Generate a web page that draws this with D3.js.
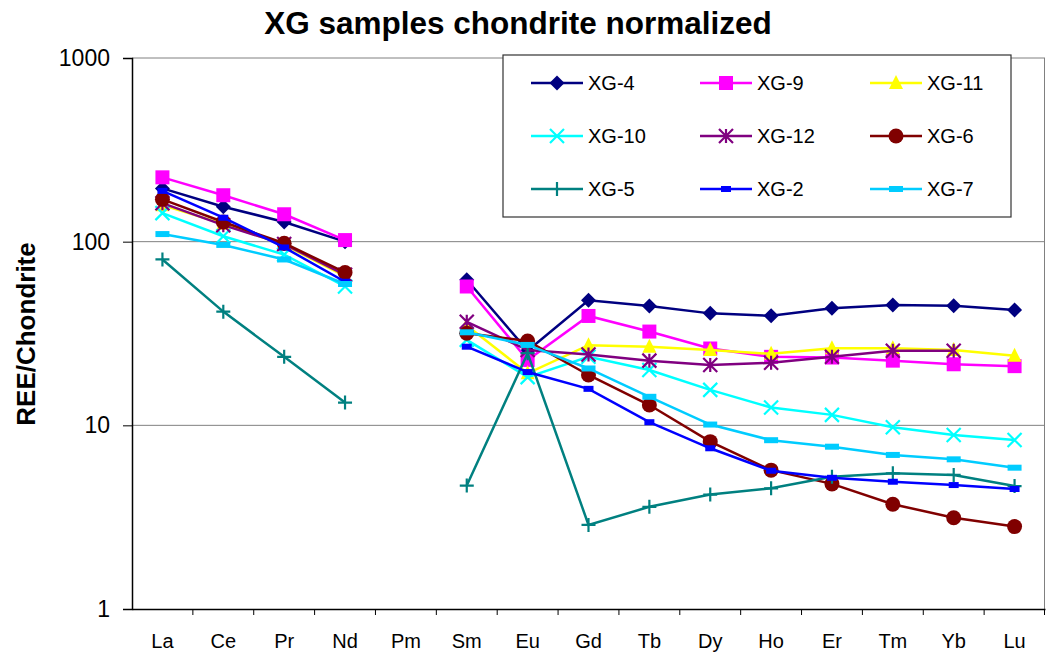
<!DOCTYPE html>
<html>
<head>
<meta charset="utf-8">
<script src="https://cdn.jsdelivr.net/npm/d3@7"></script>
<style>
  body { margin: 0; background: #fff; }
  svg { display: block; font-family: Arial, "Liberation Sans", sans-serif; }
</style>
</head>
<body>
<div id="chart"></div>
<script>
// REE elements on the x axis
const elements = ["La", "Ce", "Pr", "Nd", "Pm", "Sm", "Eu", "Gd", "Tb", "Dy", "Ho", "Er", "Tm", "Yb", "Lu"];

// chondrite normalized values (null = no value)
const xg4  = [195, 155, 128, 100, null, 62, 25.5, 48, 44.7, 40.7, 39.5, 43.4, 45.2, 44.8, 42.5];
const xg9  = [224, 179, 141, 102, null, 57, 22.7, 39.4, 32.4, 26.2, 23.6, 23.4, 22.5, 21.5, 21.0];
const xg11 = [158, 125, 96, 65, null, 35, 19.2, 27.3, 26.8, 25.7, 24.5, 26.3, 26.3, 25.7, 23.9];
const xg10 = [143, 107, 85, 57, null, 29.2, 18.3, 23.6, 20.0, 15.6, 12.5, 11.4, 9.76, 8.86, 8.32];
const xg12 = [162, 123, 97, 66, null, 36.6, 25.7, 24.3, 22.5, 21.3, 21.9, 23.6, 25.5, 25.5, null];
const xg6  = [170, 128, 98, 68, null, 31.7, 28.8, 18.8, 12.9, 8.15, 5.7, 4.8, 3.72, 3.14, 2.81];
const xg5  = [80, 41.6, 23.6, 13.3, null, 4.7, 24.7, 2.87, 3.6, 4.2, 4.54, 5.25, 5.48, 5.37, 4.67];
const xg2  = [189, 135, 93, 60.5, null, 26.8, 19.5, 15.8, 10.4, 7.5, 5.66, 5.18, 4.93, 4.73, 4.5];
const xg7  = [110, 96, 80, 58.8, null, 32.1, 27.4, 20.4, 14.3, 10.1, 8.3, 7.65, 6.9, 6.53, 5.88];

const sampleNames = ["XG-4", "XG-9", "XG-11", "XG-10", "XG-12", "XG-6", "XG-5", "XG-2", "XG-7"];
const yTicks = [1, 10, 100, 1000];

const width = 1046, height = 652;
const margin = { top: 58, right: 1, bottom: 43, left: 132 };

// series table (drawing order = legend order)
const series = [
  { name: sampleNames[0], values: xg4,  color: "#000080", marker: "diamond" },
  { name: sampleNames[1], values: xg9,  color: "#FF00FF", marker: "square" },
  { name: sampleNames[2], values: xg11, color: "#FFFF00", marker: "triangle" },
  { name: sampleNames[3], values: xg10, color: "#00FFFF", marker: "cross" },
  { name: sampleNames[4], values: xg12, color: "#800080", marker: "star" },
  { name: sampleNames[5], values: xg6,  color: "#800000", marker: "circle" },
  { name: sampleNames[6], values: xg5,  color: "#008080", marker: "plus" },
  { name: sampleNames[7], values: xg2,  color: "#0000FF", marker: "smallbar" },
  { name: sampleNames[8], values: xg7,  color: "#00CCFF", marker: "bar" }
];

const svg = d3.select("#chart").append("svg")
  .attr("width", width)
  .attr("height", height);

const x = d3.scaleBand()
  .domain(elements)
  .range([margin.left, width - margin.right]);

const y = d3.scaleLog()
  .domain([1, 1000])
  .range([height - margin.bottom, margin.top]);

// gridlines + frame
svg.append("g")
  .selectAll("line")
  .data(yTicks.slice(1))
  .enter()
  .append("line")
  .attr("x1", margin.left)
  .attr("x2", width - margin.right)
  .attr("y1", d => y(d))
  .attr("y2", d => y(d))
  .attr("stroke", "#808080")
  .attr("stroke-width", 1);

svg.append("line")
  .attr("x1", width - margin.right - 0.5)
  .attr("x2", width - margin.right - 0.5)
  .attr("y1", y(1000))
  .attr("y2", y(1))
  .attr("stroke", "#808080");

// y axis
const yAxis = svg.append("g")
  .attr("transform", `translate(${margin.left},0)`)
  .call(d3.axisLeft(y).tickValues(yTicks).tickFormat(d3.format("d")).tickSize(9).tickPadding(13));
yAxis.attr("font-family", "Arial, 'Liberation Sans', sans-serif").attr("font-size", 23);
yAxis.selectAll("text").attr("fill", "#000");
yAxis.select(".domain").attr("stroke", "#000").attr("stroke-width", 1.5);
yAxis.selectAll(".tick line").attr("stroke", "#000");

// x axis: labels at band centres, ticks at band edges
const xAxis = svg.append("g")
  .attr("transform", `translate(0,${y(1)})`)
  .call(d3.axisBottom(x).tickSize(0).tickPadding(25));
xAxis.attr("font-family", "Arial, 'Liberation Sans', sans-serif").attr("font-size", 20);
xAxis.selectAll("text").attr("fill", "#000");
xAxis.select(".domain").attr("stroke", "#000").attr("stroke-width", 1.5);

xAxis.selectAll(".edge")
  .data(elements.slice(1).concat(["end"]))
  .enter()
  .append("line")
  .attr("class", "edge")
  .attr("x1", d => d === "end" ? x.range()[1] - 0.5 : x(d))
  .attr("x2", d => d === "end" ? x.range()[1] - 0.5 : x(d))
  .attr("y1", 0)
  .attr("y2", 6)
  .attr("stroke", "#000");

// marker shapes
function markerPath(type) {
  const r = 7;
  switch (type) {
    case "diamond": return `M0,${-r - 0.5}L${r + 0.5},0L0,${r + 0.5}L${-r - 0.5},0Z`;
    case "square": return `M${-r},${-r}H${r}V${r}H${-r}Z`;
    case "triangle": return `M0,${-r - 1}L${r},${r - 1}L${-r},${r - 1}Z`;
    case "cross": return `M${-r},${-r}L${r},${r}M${-r},${r}L${r},${-r}`;
    case "star": return `M${-r},${-r}L${r},${r}M${-r},${r}L${r},${-r}M0,${-r}V${r}`;
    case "plus": return `M${-r},0H${r}M0,${-r}V${r}`;
    case "smallbar": return `M-5,-3H5V3H-5Z`;
    case "bar": return `M-7,-3H7V3H-7Z`;
  }
}

function drawMarker(g, s) {
  if (s.marker === "circle") {
    return g.append("circle").attr("r", 7.5).attr("fill", s.color);
  }
  const open = ["cross", "star", "plus"].includes(s.marker);
  return g.append("path")
    .attr("d", markerPath(s.marker))
    .attr("fill", open ? "none" : s.color)
    .attr("stroke", open ? s.color : "none")
    .attr("stroke-width", 2.2);
}

const line = d3.line()
  .defined(d => d.v != null)
  .x(d => x(d.el) + x.bandwidth() / 2)
  .y(d => y(d.v));

series.forEach(s => {
  const pts = elements.map((el, i) => ({ el: el, v: s.values[i] }));
  const g = svg.append("g");
  g.append("path")
    .datum(pts)
    .attr("d", line)
    .attr("fill", "none")
    .attr("stroke", s.color)
    .attr("stroke-width", 2.5);
  pts.filter(d => d.v != null).forEach(d => {
    const m = g.append("g")
      .attr("transform", `translate(${x(d.el) + x.bandwidth() / 2},${y(d.v)})`);
    drawMarker(m, s);
  });
});

// legend
const legend = svg.append("g");
legend.append("rect")
  .attr("x", 503)
  .attr("y", 55)
  .attr("width", 508)
  .attr("height", 162)
  .attr("fill", "#fff")
  .attr("stroke", "#333")
  .attr("stroke-width", 1.2);

const colX = [531, 700, 870];
const rowY = [83, 136, 189];
series.forEach((s, i) => {
  const lx = colX[i % 3], ly = rowY[Math.floor(i / 3)];
  const item = legend.append("g").attr("transform", `translate(${lx},${ly})`);
  item.append("line")
    .attr("x1", 0).attr("x2", 52)
    .attr("stroke", s.color).attr("stroke-width", 2.5);
  drawMarker(item.append("g").attr("transform", "translate(26,0)"), s);
  item.append("text")
    .attr("x", 57)
    .attr("dy", "0.35em")
    .style("font-size", "20px")
    .text(s.name);
});

// titles
svg.append("text")
  .attr("x", 518)
  .attr("y", 34)
  .attr("text-anchor", "middle")
  .style("font-size", "31.5px")
  .style("font-weight", "bold")
  .text("XG samples chondrite normalized");

svg.append("text")
  .attr("transform", "translate(35,334) rotate(-90)")
  .attr("text-anchor", "middle")
  .style("font-size", "26px")
  .style("font-weight", "bold")
  .text("REE/Chondrite");
</script>
</body>
</html>
